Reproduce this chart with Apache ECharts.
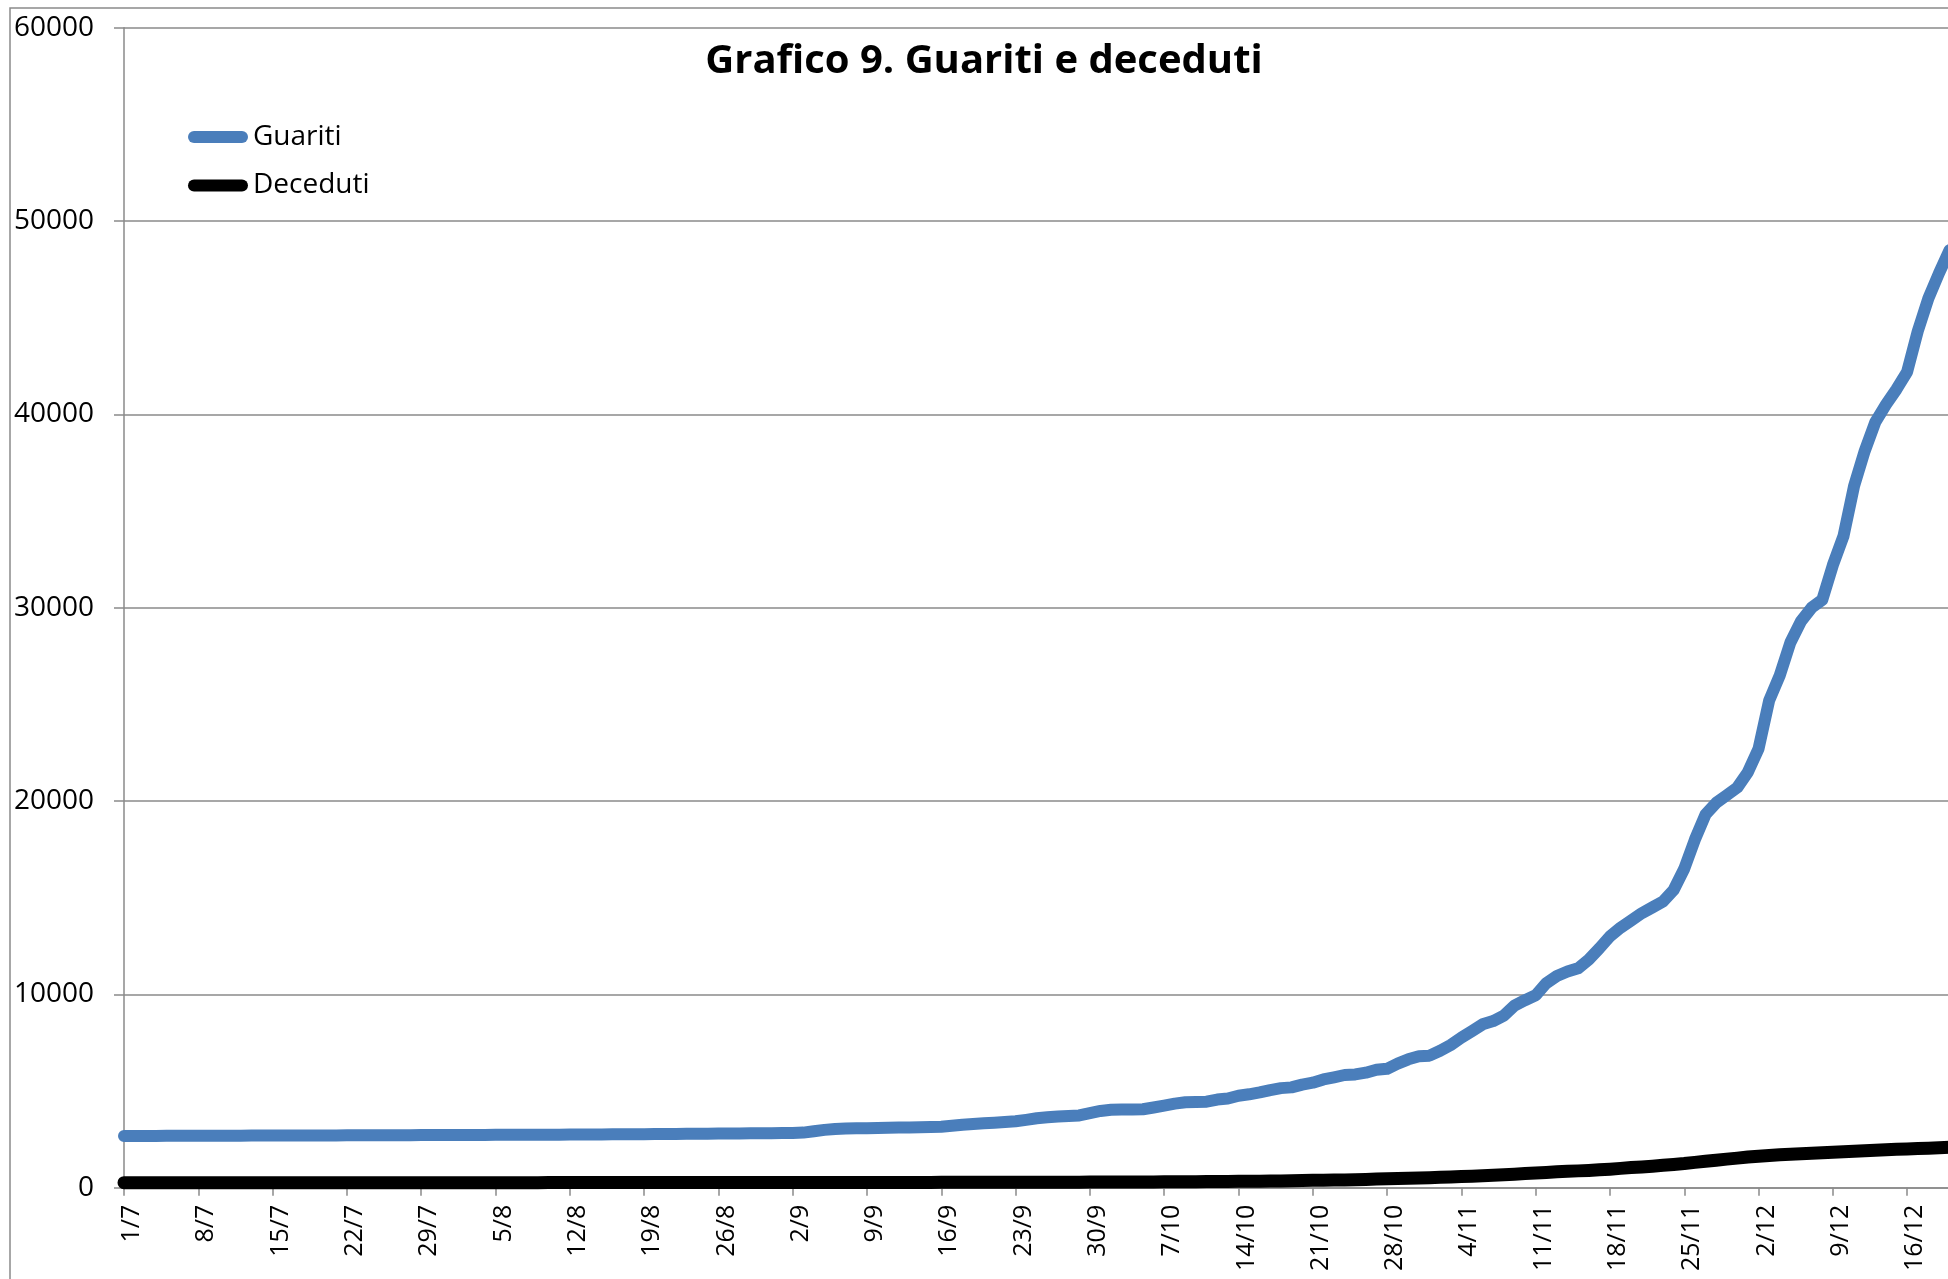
<!DOCTYPE html>
<html>
<head>
<meta charset="utf-8">
<script src="https://cdn.jsdelivr.net/npm/echarts@6/dist/echarts.min.js"></script>
<style>
  html, body { margin: 0; padding: 0; overflow: hidden; background: #fff; }
  #grafico { width: 1968px; height: 1279px; }
</style>
</head>
<body>
<div id="grafico"></div>
<script>
  // giorni dal 1/7 al 20/12
  var giorni = [];
  var d = new Date(2020, 6, 1);
  while (giorni.length < 173) {
    giorni.push(d.getDate() + '/' + (d.getMonth() + 1));
    d.setDate(d.getDate() + 1);
  }

  var guariti = [
    2674, 2676, 2678, 2680, 2682, 2683, 2685,
    2687, 2689, 2690, 2692, 2693, 2694, 2696,
    2697, 2698, 2700, 2701, 2703, 2705, 2706,
    2708, 2710, 2711, 2713, 2714, 2716, 2718,
    2720, 2722, 2724, 2726, 2728, 2729, 2731,
    2733, 2735, 2737, 2739, 2741, 2743, 2745,
    2748, 2751, 2754, 2757, 2760, 2763, 2766,
    2770, 2774, 2778, 2782, 2786, 2790, 2795,
    2800, 2804, 2808, 2812, 2816, 2820, 2825,
    2830, 2850, 2920, 2990, 3040, 3060, 3070,
    3080, 3090, 3100, 3110, 3115, 3125, 3135,
    3150, 3200, 3260, 3300, 3330, 3360, 3400,
    3440, 3510, 3590, 3640, 3680, 3710, 3740,
    3860, 3970, 4030, 4040, 4045, 4060, 4150,
    4250, 4350, 4420, 4430, 4450, 4560, 4610,
    4760, 4830, 4930, 5050, 5150, 5190, 5330,
    5430, 5600, 5710, 5830, 5860, 5950, 6100,
    6150, 6420, 6640, 6800, 6830, 7080, 7380,
    7760, 8100, 8450, 8620, 8900, 9420, 9700,
    9950, 10580, 10950, 11180, 11350, 11800, 12380,
    13000, 13450, 13820, 14200, 14500, 14800, 15400,
    16500, 18000, 19300, 19900, 20300, 20700, 21500,
    22700, 25200, 26500, 28200, 29300, 30000, 30400,
    32200, 33700, 36300, 38100, 39600, 40500, 41300,
    42200, 44300, 46000, 47300, 48500
  ];

  var deceduti = [
    258, 258, 258, 258, 258, 258, 258,
    259, 259, 259, 259, 259, 259, 259,
    260, 260, 260, 260, 260, 260, 260,
    260, 261, 261, 261, 261, 261, 261,
    261, 261, 262, 262, 262, 262, 262,
    262, 262, 262, 262, 262, 263, 263,
    263, 263, 263, 263, 264, 264, 264,
    264, 264, 264, 265, 265, 265, 265,
    265, 266, 266, 266, 266, 267, 267,
    267, 268, 268, 269, 269, 270, 270,
    271, 271, 272, 273, 273, 274, 275,
    276, 277, 277, 278, 279, 279, 280,
    281, 282, 283, 284, 285, 286, 287,
    289, 290, 292, 294, 296, 298, 300,
    303, 306, 309, 312, 316, 320, 324,
    330, 335, 340, 345, 352, 360, 370,
    380, 390, 395, 400, 415, 430, 445,
    460, 475, 490, 505, 520, 535, 555,
    575, 595, 620, 645, 670, 700, 730,
    760, 790, 820, 845, 870, 895, 925,
    960, 1000, 1040, 1075, 1115, 1160, 1205,
    1250, 1310, 1365, 1420, 1480, 1530, 1590,
    1630, 1670, 1705, 1730, 1755, 1780, 1810,
    1835, 1860, 1885, 1910, 1935, 1960, 1985,
    2005, 2025, 2045, 2070, 2095
  ];

  var grigio = '#8a8a8a';
  var font = 'Open Sans';

  var chart = echarts.init(document.getElementById('grafico'));
  chart.setOption({
    animation: false,
    backgroundColor: '#fff',
    title: {
      text: 'Grafico 9. Guariti e deceduti',
      left: 'center',
      top: 37,
      textStyle: { fontFamily: font, fontSize: 40, fontWeight: 'bold', color: '#000' }
    },
    legend: {
      orient: 'vertical',
      left: 188,
      top: 123,
      padding: 0,
      itemWidth: 60,
      itemHeight: 12,
      itemGap: 20.5,
      icon: 'path://M6,0H54A6,6,0,0,1,54,12H6A6,6,0,0,1,6,0Z',
      textStyle: { fontFamily: font, fontSize: 28, color: '#000' },
      data: ['Guariti', 'Deceduti']
    },
    graphic: [{
      type: 'rect',
      shape: { x: 10, y: 8, width: 2100, height: 1400 },
      style: { fill: 'none', stroke: grigio, lineWidth: 1.5 },
      silent: true
    }],
    grid: { left: 124, right: 18.4, top: 27.7, bottom: 91.3 },
    xAxis: {
      type: 'category',
      data: giorni,
      boundaryGap: false,
      axisLine: { lineStyle: { color: grigio, width: 1.5 } },
      axisTick: { interval: 6, length: 8, lineStyle: { color: grigio, width: 1.5 } },
      axisLabel: {
        interval: 6,
        rotate: 90,
        margin: 17,
        verticalAlign: 'top',
        lineHeight: 16,
        fontFamily: font,
        fontSize: 25,
        color: '#000'
      }
    },
    yAxis: {
      type: 'value',
      min: 0,
      max: 60000,
      interval: 10000,
      axisLine: { show: true, lineStyle: { color: grigio, width: 1.5 } },
      axisTick: { show: true, length: 10, lineStyle: { color: grigio, width: 1.5 } },
      axisLabel: {
        margin: 30,
        fontFamily: font,
        fontSize: 28,
        color: '#000',
        formatter: function (v) { return String(v); }
      },
      splitLine: { lineStyle: { color: grigio, width: 1.5 } }
    },
    series: [{
      name: 'Guariti',
      type: 'line',
      data: guariti,
      showSymbol: false,
      symbol: 'none',
      itemStyle: { color: '#4a7ebb' },
      lineStyle: { color: '#4a7ebb', width: 12, cap: 'round', join: 'round' }
    }, {
      name: 'Deceduti',
      type: 'line',
      data: deceduti,
      showSymbol: false,
      symbol: 'none',
      itemStyle: { color: '#000' },
      lineStyle: { color: '#000', width: 13, cap: 'round', join: 'round' }
    }]
  });
</script>
</body>
</html>
